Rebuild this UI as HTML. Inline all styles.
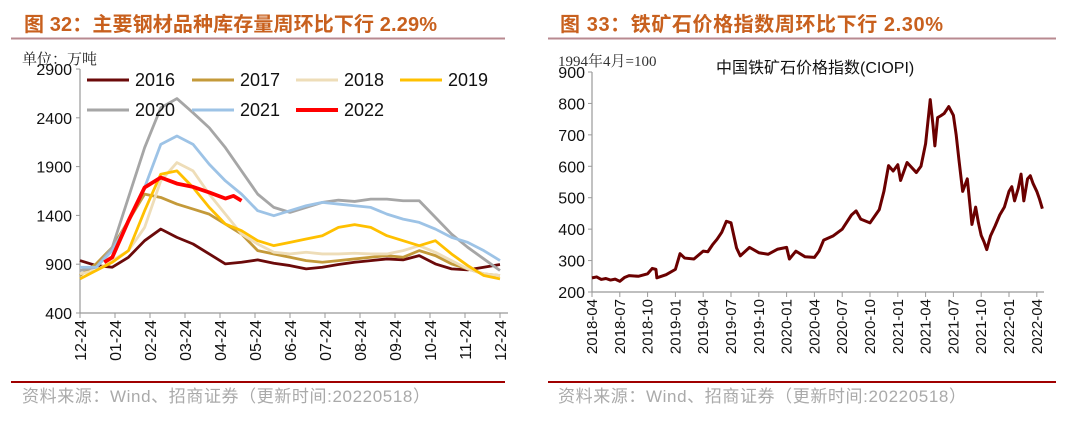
<!DOCTYPE html>
<html><head><meta charset="utf-8"><style>
body{margin:0;background:#fff;}
svg{display:block;font-family:"Liberation Sans","Noto Sans CJK SC",sans-serif;}
</style></head><body>
<svg id="s" width="1077" height="425" viewBox="0 0 1077 425">
<g>
<text x="24" y="31" font-size="20" font-weight="bold" fill="#C8601E" textLength="413">图 32：主要钢材品种库存量周环比下行 2.29%</text>
<line x1="11" y1="38.5" x2="505" y2="38.5" stroke="#B88A90" stroke-width="2"/>
</g>
<g>
<text x="560" y="31" font-size="20" font-weight="bold" fill="#C8601E" textLength="383">图 33：铁矿石价格指数周环比下行 2.30%</text>
<line x1="548" y1="38.5" x2="1056" y2="38.5" stroke="#B88A90" stroke-width="2"/>
</g>
<line x1="11" y1="382" x2="505" y2="382" stroke="#A00000" stroke-width="2"/>
<line x1="548" y1="382" x2="1056" y2="382" stroke="#A00000" stroke-width="2"/>
<text x="22" y="402" font-size="17" fill="#AAAAAA" textLength="408">资料来源：Wind、招商证券（更新时间:20220518）</text>
<text x="558" y="402" font-size="17" fill="#AAAAAA" textLength="408">资料来源：Wind、招商证券（更新时间:20220518）</text>
<g id="left"></g>
<g id="right"></g>
</svg>
<script>
const NS="http://www.w3.org/2000/svg";
function mk(p,t,a){const e=document.createElementNS(NS,t);for(const k in a)e.setAttribute(k,a[k]);p.appendChild(e);return e;}

// ---- left chart data ----
const weeks=[0,2,4,6,8,10,12,14,16,18,20,22,24,26,28,30,32,34,36,38,40,42,44,46,48,50,52];
const xLabelsL=["12-24","01-24","02-24","03-24","04-24","05-24","06-24","07-24","08-24","09-24","10-24","11-24","12-24"];
const yTicksL=[400,900,1400,1900,2400,2900];
const s2016=[937,886,869,971,1141,1260,1175,1107,1005,903,920,944,910,886,852,869,897,920,937,954,944,988,903,852,842,869,897];
const s2017=[784,903,1073,1345,1618,1584,1516,1465,1413,1311,1209,1039,1005,971,937,920,937,954,971,988,971,1039,988,903,852,801,784];
const s2018=[801,835,937,1039,1277,1754,1941,1856,1618,1413,1209,1107,1022,1005,1022,1005,1005,1012,1005,1005,1039,1090,1022,937,852,801,784];
const s2019=[750,835,920,1039,1448,1822,1856,1686,1482,1311,1243,1141,1090,1124,1158,1192,1277,1305,1277,1192,1141,1090,1141,1005,886,784,750];
const s2020=[835,869,1073,1584,2094,2502,2597,2451,2298,2094,1856,1618,1482,1431,1482,1533,1556,1543,1567,1567,1550,1550,1380,1209,1073,954,835];
const s2021=[869,869,1039,1345,1686,2128,2213,2128,1924,1754,1618,1448,1397,1448,1499,1533,1516,1499,1482,1413,1362,1328,1260,1175,1124,1039,937];
const weeks2022=[3,4,6,8,10,12,14,16,18,19,20];
const s2022=[920,971,1345,1686,1788,1726,1692,1635,1573,1600,1550];
const seriesNames=["2016","2017","2018","2019","2020","2021","2022"];
const seriesColors=["#6B0A0A","#C49A3A","#EEDDB8","#FFC000","#A6A6A6","#9DC3E6","#FF0000"];

const L=document.getElementById('left');
const xL=w=>80+w*(420/52);
const yL=v=>313-(v-400)*(244/2500);
mk(L,'line',{x1:80,y1:69,x2:80,y2:313,stroke:'#999','stroke-width':1.2});
mk(L,'line',{x1:80,y1:313,x2:508,y2:313,stroke:'#999','stroke-width':1.2});
yTicksL.forEach(v=>{
 mk(L,'line',{x1:76,y1:yL(v),x2:80,y2:yL(v),stroke:'#999'});
 const t=mk(L,'text',{x:72,y:yL(v)+6,'font-size':16,'text-anchor':'end',fill:'#111'});t.textContent=v;
 
 
});
xLabelsL.forEach((lab,i)=>{
 const x=80+i*35;
 mk(L,'line',{x1:x,y1:313,x2:x,y2:318,stroke:'#999'});
 const t=mk(L,'text',{x:0,y:0,'font-size':16,'text-anchor':'end',fill:'#111',transform:`translate(${x+6},${320}) rotate(-90)`});t.textContent=lab;
 
 
});
const unit=mk(L,'text',{x:22,y:64,'font-size':15,fill:'#222','font-family':'"Liberation Serif","Noto Serif CJK SC",serif'});unit.textContent="单位：万吨";


const allS=[s2016,s2017,s2018,s2019,s2020,s2021];
allS.forEach((s,i)=>{
 const p=mk(L,'polyline',{points:s.map((v,j)=>xL(weeks[j])+','+yL(v)).join(' '),fill:'none',stroke:seriesColors[i],'stroke-width':2.8,'stroke-linejoin':'round'});
 
 
});
const p22=mk(L,'polyline',{points:s2022.map((v,j)=>xL(weeks2022[j])+','+yL(v)).join(' '),fill:'none',stroke:'#FF0000','stroke-width':3.8,'stroke-linejoin':'round'});


// legend
const lx=[87,192,296,400];
seriesNames.forEach((n,i)=>{
 const x=lx[i%4],y=i<4?80:110;
 const g=mk(L,'g',{});
 
 
 mk(g,'line',{x1:x,y1:y,x2:x+42,y2:y,stroke:seriesColors[i],'stroke-width':i==6?4:3});
 const t=mk(g,'text',{x:x+48,y:y+6,'font-size':18,fill:'#111'});t.textContent=n;
});

// ---- right chart data ----
const months=[0,0.5,1,1.5,2,2.5,3,3.5,4,5,6,6.5,6.9,7,8,9,9.5,10,11,12,12.5,13,13.5,14,14.5,15,15.3,15.6,16,17,18,19,20,21,21.3,22,23,24,24.5,25,26,27,28,28.5,29,30,31,31.5,32,32.5,33,33.3,34,35,35.5,36,36.5,36.8,37,37.3,37.6,38,38.5,39,39.3,39.6,40,40.5,41,41.4,41.7,42,42.3,42.6,43,43.5,44,44.5,45,45.3,45.6,46,46.3,46.6,47,47.3,47.6,48,48.3,48.6];
const ciopi=[245,248,240,243,238,241,234,246,252,250,258,275,272,245,255,272,322,308,305,330,328,350,368,390,425,420,380,340,315,342,325,320,336,342,305,330,312,310,330,365,378,400,445,458,432,420,462,520,602,585,605,555,612,580,600,672,812,730,665,755,760,768,790,762,700,620,520,560,415,470,420,380,360,335,378,410,445,470,520,535,490,530,575,490,560,570,545,520,495,465];
const xLabelsR=["2018-04","2018-07","2018-10","2019-01","2019-04","2019-07","2019-10","2020-01","2020-04","2020-07","2020-10","2021-01","2021-04","2021-07","2021-10","2022-01","2022-04"];
const yTicksR=[200,300,400,500,600,700,800,900];
const R=document.getElementById('right');
const xR=m=>592+m*(27.8/3);
const yR=v=>292-(v-200)*(220/700);
mk(R,'line',{x1:592,y1:72,x2:592,y2:292,stroke:'#999','stroke-width':1.2});
mk(R,'line',{x1:592,y1:292,x2:1044,y2:292,stroke:'#999','stroke-width':1.2});
yTicksR.forEach(v=>{
 mk(R,'line',{x1:588,y1:yR(v),x2:592,y2:yR(v),stroke:'#999'});
 const t=mk(R,'text',{x:585,y:yR(v)+6,'font-size':16,'text-anchor':'end',fill:'#111'});t.textContent=v;
 
 
});
xLabelsR.forEach((lab,i)=>{
 const x=xR(i*3);
 mk(R,'line',{x1:x,y1:292,x2:x,y2:297,stroke:'#999'});
 const t=mk(R,'text',{x:0,y:0,'font-size':15,'text-anchor':'end',fill:'#111',transform:`translate(${x+5},${299}) rotate(-90)`});t.textContent=lab;
 
 
});
const base=mk(R,'text',{x:558,y:66,'font-size':15,fill:'#333','font-family':'"Liberation Serif","Noto Serif CJK SC",serif'});base.textContent="1994年4月=100";


const ct=mk(R,'text',{x:716,y:73,'font-size':16,fill:'#111'});ct.textContent="中国铁矿石价格指数(CIOPI)";


const pl=mk(R,'polyline',{points:ciopi.map((v,j)=>xR(months[j])+','+yR(v)).join(' '),fill:'none',stroke:'#6B0000','stroke-width':3,'stroke-linejoin':'round'});


</script>
</body></html>
